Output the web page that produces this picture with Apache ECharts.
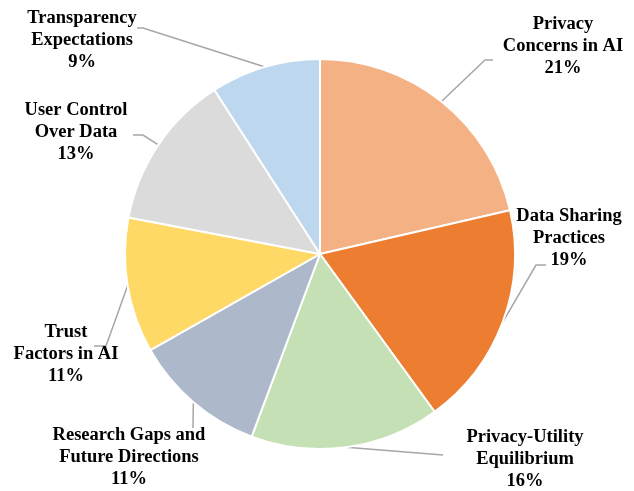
<!DOCTYPE html>
<html>
<head>
<meta charset="utf-8">
<script src="https://cdn.jsdelivr.net/npm/echarts@6/dist/echarts.min.js"></script>
<style>
html,body{margin:0;padding:0;background:#fff;}
#chart{width:634px;height:491px;}
</style>
</head>
<body>
<div id="chart"></div>
<script>
// Data (shares of total)
var categories = [
  'Privacy\nConcerns in AI',
  'Data Sharing\nPractices',
  'Privacy-Utility\nEquilibrium',
  'Research Gaps and\nFuture Directions',
  'Trust\nFactors in AI',
  'User Control\nOver Data',
  'Transparency\nExpectations'
];
var values = [21.4, 18.6, 15.7, 11.1, 11.2, 12.9, 9.1];

// Styling / layout (kept separate from data)
var colors = ['#F4B183', '#ED7D31', '#C5E0B4', '#ADB9CA', '#FFD966', '#DBDBDB', '#BDD7EE'];
var labelPos = [
  [563, 46], [569, 238], [525, 459], [129, 457], [66, 354], [76, 132], [82, 40]
];
// leader line end offset relative to label centre, and horizontal elbow length
var guideEnd = [
  [-70, 14, 8], [-23, 27, 10], [-82, -4, 0], [64, -29, 0], [28, -8, 12], [57, 3, 10], [55, -12, 6]
];

var chart = echarts.init(document.getElementById('chart'), null, {renderer: 'canvas'});
chart.setOption({
  animation: false,
  backgroundColor: '#ffffff',
  series: [{
    type: 'pie',
    center: [320, 254],
    radius: [0, 195],
    startAngle: 90,
    clockwise: true,
    avoidLabelOverlap: false,
    data: categories.map(function (c, i) {
      return { name: c, value: values[i], itemStyle: { color: colors[i] } };
    }),
    itemStyle: { borderColor: '#ffffff', borderWidth: 2 },
    label: {
      show: true,
      position: 'outside',
      formatter: function (p) { return p.name + '\n' + Math.round(p.percent) + '%'; },
      fontFamily: '"Liberation Serif", "Times New Roman", serif',
      fontWeight: 'bold',
      fontSize: 18.5,
      lineHeight: 22,
      color: '#000000',
      align: 'center'
    },
    labelLine: {
      show: true,
      length: 15,
      length2: 10,
      lineStyle: { color: '#A6A6A6', width: 1.5 }
    },
    labelLayout: function (params) {
      var i = params.dataIndex;
      var pos = labelPos[i];
      var g = guideEnd[i];
      var out = { x: pos[0], y: pos[1], align: 'center', verticalAlign: 'middle', hideOverlap: false };
      var pts = params.labelLinePoints;
      if (pts && pts.length) {
        var anchor = pts[0];
        var end = [pos[0] + g[0], pos[1] + g[1]];
        var elbow = [end[0] + (anchor[0] < end[0] ? -g[2] : g[2]), end[1]];
        out.labelLinePoints = [[anchor[0], anchor[1]], elbow, end];
      }
      return out;
    },
    emphasis: { disabled: true }
  }]
});
</script>
</body>
</html>
